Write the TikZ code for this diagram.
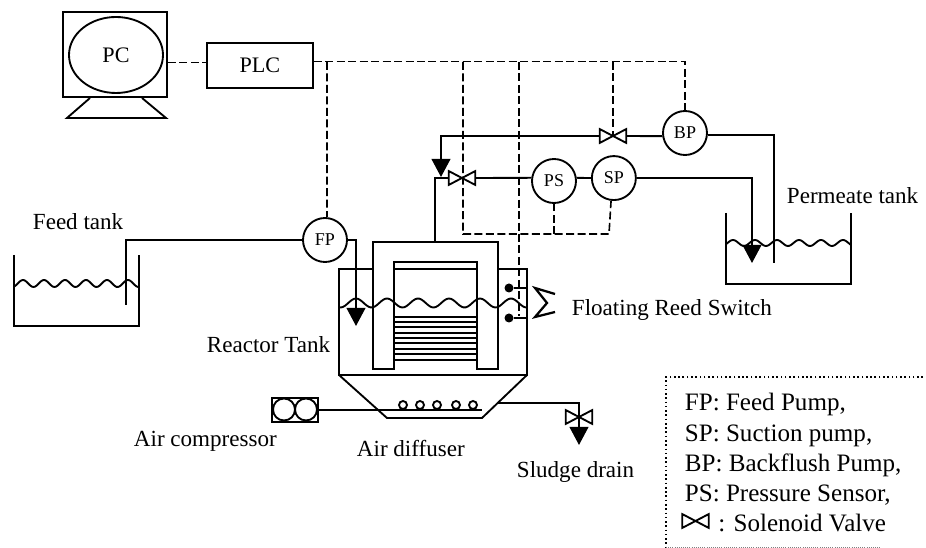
\documentclass[tikz,border=0pt]{standalone}
\usepackage{fontspec}
\setmainfont{Liberation Serif}
\usetikzlibrary{arrows.meta,positioning,shapes.geometric}

\begin{document}
\begin{tikzpicture}[x=0.75pt,y=-0.75pt,line width=1.4pt,
    pipe/.style={draw,line join=miter},
    ctrl/.style={draw,dashed,dash pattern=on 6pt off 2.6pt,line width=1.2pt},
    drain/.style={-{Triangle[length=13.5pt,width=14pt]}},
    pump/.style={draw,circle,fill=white,minimum size=33pt,inner sep=0,font=\fontsize{13.5}{15}\selectfont},
    box/.style={draw,rectangle,inner sep=0,font=\fontsize{16.6}{18}\selectfont},
    lbl/.style={inner sep=0,anchor=base west,font=\fontsize{17.3}{20}\selectfont},
    key/.style={inner sep=0,anchor=base west,font=\fontsize{18.8}{22}\selectfont},
    valve/.style={inner sep=0,minimum width=18.5pt,minimum height=9pt,
      append after command={\pgfextra{\draw[fill=white,line join=miter,line width=1.4pt] (\tikzlastnode.north west) -- (\tikzlastnode.south east) -- (\tikzlastnode.north east) -- (\tikzlastnode.south west) -- cycle;}}},
    dot/.style={circle,fill=black,minimum size=6.75pt,inner sep=0},
    air/.style={draw,circle,minimum size=6pt,inner sep=0},
    wave/.style={smooth,samples=90}]
    \useasboundingbox (0,0) rectangle (926,548);

    %control room
    \node[box,minimum width=78pt,minimum height=64pt] (monitor) at (115,54.5) {};
    \node[draw,ellipse,minimum width=70.5pt,minimum height=57pt,inner sep=0,font=\fontsize{16.6}{18}\selectfont] (PC) at (116,55) {PC};
    \node[box,minimum width=79.5pt,minimum height=34pt] (PLC) [right=28.5pt of monitor,yshift=-8.2pt] {PLC};
    \draw (90,98) -- (67,118) -- (166,118) -- (142,98);

    %pumps and sensor
    \node[pump] (FP) at (325,240) {FP};
    \node[pump] (BP) at (685,133) {BP};
    \node[pump] (PS) at (554,181) {PS};
    \node[pump] (SP) [right=10.5pt of PS,yshift=2.2pt] {SP};

    %valves
    \node[valve] (valveBP) at (613,136) {};
    \node[valve] (valvePS) at (462,178) {};
    \node[valve] (valveDrain) at (579,417) {};

    %feed tank
    \draw (14,255) -- (14,326) -- (139,326) -- (139,255);
    \draw plot[wave,domain=14:139] (\x,{283.5-3.5*cos((\x-65)/21*360)});

    %permeate tank
    \draw (726,213) -- (726,284) -- (851,284) -- (851,213);
    \draw plot[wave,domain=726:851] (\x,{243-3*cos((\x-733)/22*360)});

    %reactor
    \draw (372,269) -- (339,269) -- (339,375) -- (527,375) -- (527,269) -- (498,269);
    \draw (339,375) -- (387,418) -- (482,418) -- (527,375);
    \draw (373,369) -- (373,242) -- (498,242) -- (498,369) -- (477,369) -- (477,262) -- (394,262) -- (394,369) -- cycle;
    \draw (394,269) -- (477,269);
    \draw plot[wave,domain=339:527] (\x,{303-4.5*cos((\x-387)/31*360)});
    %membrane
    \draw (394,317) -- (477,317) (394,322) -- (477,322) (394,327) -- (477,327)
          (394,333) -- (477,333) (394,338) -- (477,338) (394,343) -- (477,343)
          (394,349) -- (477,349) (394,354) -- (477,354) (394,360) -- (477,360);

    %float switch
    \node[dot] (floatHigh) at (509,288) {};
    \node[dot] (floatLow) at (509,318) {};
    \coordinate (wallHigh) at (527,288);
    \coordinate (wallLow) at (527,318);
    \draw[line width=1.7pt] (555,294) -- (535,288) -- (547,303) -- (535,317) -- (555,312);

    %air line
    \node[draw,rectangle,minimum width=34.5pt,minimum height=18pt,inner sep=0] (compressor) at (295,410) {};
    \node[draw,circle,minimum size=16.5pt,inner sep=0] (compA) at (284,409.5) {};
    \node[draw,circle,minimum size=16.5pt,inner sep=0] (compB) at (306,409.5) {};
    \coordinate (diffuserEnd) at (482,410);
    \node[air] (air1) at (403,405) {};
    \node[air] (air2) at (420,405) {};
    \node[air] (air3) at (437,405) {};
    \node[air] (air4) at (456,405) {};
    \node[air] (air5) at (473,405) {};

    %pipe ends
    \coordinate (feedIn) at (126,305);
    \coordinate (feedOut) at (356,326);
    \coordinate (permIn) at (774,263);
    \coordinate (permOut) at (752,263);
    \coordinate (backOut) at (441,177);
    \coordinate (reactorTop) at (435,242);
    \coordinate (drainOut) at (579,445);
    \coordinate (hopperSide) at (498,403);

    \draw[pipe] (feedIn) |- (FP.west);
    \draw[pipe,drain] (FP.east) -| (feedOut);
    \draw[pipe] (BP.356) -| (permIn);
    \draw[pipe,drain] (SP.east) -| (permOut);
    \draw[pipe,drain] (valveBP.west) -| (backOut);
    \draw[pipe] (reactorTop) |- (valvePS.west);
    \draw[pipe] (hopperSide) -| (valveDrain.center);
    \path[pipe]
     (BP.188) edge (valveBP.east)
     (valvePS.east) edge (PS.172)
     (PS.8) edge (SP.west)
     (compressor.east) edge (diffuserEnd)
     (floatHigh) edge (wallHigh)
     (floatLow) edge (wallLow);
    \draw[pipe,drain] (valveDrain.center) -- (drainOut);
    \draw[line width=2.2pt] (403,410) -- (diffuserEnd);

    %control lines
    \coordinate (busFP) at (327,62);
    \coordinate (busLow) at (463,62);
    \coordinate (busFloat) at (519,62);
    \coordinate (busValve) at (613,62);
    \coordinate (lowSP) at (609,234);
    \coordinate (lowPS) at (554,234);
    \coordinate (floatEnd) at (519,316);
    \draw[ctrl] (monitor.east |- PLC.177) -- (PLC.177);
    \draw[ctrl] (PLC.4) -| (BP.north);
    \draw[ctrl] (busFP) -- (FP.85);
    \draw[ctrl] (busLow) |- (lowSP) -- (SP.263);
    \draw[ctrl] (lowPS) -- (PS.south);
    \draw[ctrl] (busFloat) -- (floatEnd);
    \draw[ctrl] (busValve) -- (valveBP.center);

    %labels
    \node[lbl] (feedLabel) at (32,230) {Feed tank};
    \node[lbl] (permLabel) at (786,204) {Permeate tank};
    \node[lbl] (reactorLabel) at (206,353) {Reactor Tank};
    \node[lbl] (floatLabel) at (571,316) {Floating Reed Switch};
    \node[lbl] (compLabel) at (133,447) {Air compressor};
    \node[lbl] (diffLabel) at (356,457) {Air diffuser};
    \node[lbl] (drainLabel) at (516,478) {Sludge drain};

    %legend
    \draw[dotted,line width=1.2pt] (923,377) -- (666,377) -- (666,547);
    \draw[densely dotted,gray,line width=0.6pt] (666,547) -- (880,547);
    \node[key] (keyFP) at (684,411) {FP: Feed Pump,};
    \node[key,below=22.6pt of keyFP.base west,anchor=base west] (keySP) {SP: Suction pump,};
    \node[key,below=22.6pt of keySP.base west,anchor=base west] (keyBP) {BP: Backflush Pump,};
    \node[key,below=22.6pt of keyBP.base west,anchor=base west] (keyPS) {PS: Pressure Sensor,};
    \node[valve] (keyValve) at (695.5,521) {};
    \node[key,below=22.6pt of keyPS.base west,anchor=base west,xshift=25pt] (keySV) {: Solenoid Valve};
\end{tikzpicture}
\end{document}
